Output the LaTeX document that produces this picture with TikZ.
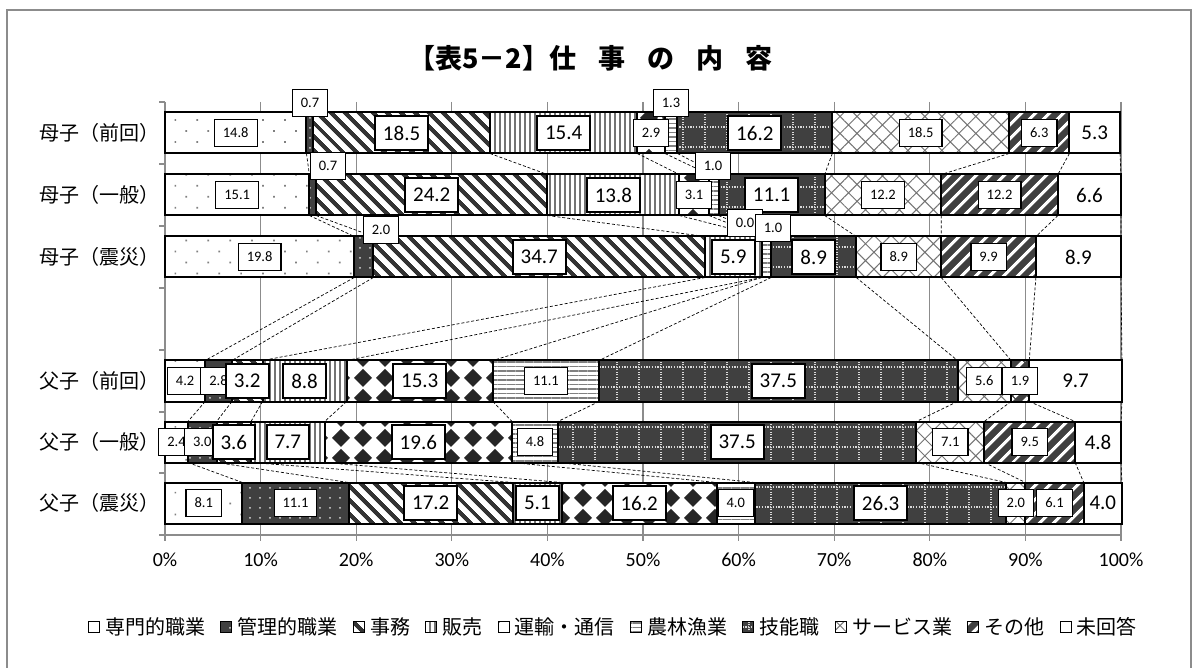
\documentclass[tikz,border=0pt]{standalone}
\usepackage{fontspec}
\setmainfont{Carlito}
\newfontfamily\jfont{Noto Sans CJK JP}
\usetikzlibrary{positioning,patterns,patterns.meta}

% diamond pattern (transport) and dotted grid (skilled work)
\pgfdeclarepatternformonly{diamonds}{\pgfpoint{-1pt}{-1pt}}{\pgfpoint{23pt}{21pt}}{\pgfpoint{22pt}{20pt}}{%
  \pgfpathmoveto{\pgfpoint{11pt}{1pt}}%
  \pgfpathlineto{\pgfpoint{20pt}{10pt}}%
  \pgfpathlineto{\pgfpoint{11pt}{19pt}}%
  \pgfpathlineto{\pgfpoint{2pt}{10pt}}%
  \pgfpathclose\pgfusepath{fill}}
\pgfdeclarepatternformonly{dotgrid}{\pgfpoint{-1pt}{-1pt}}{\pgfpoint{23pt}{21pt}}{\pgfpoint{22pt}{20pt}}{%
  \pgfsetlinewidth{1.4pt}%
  \pgfsetdash{{1.4pt}{1.35pt}}{0pt}%
  \pgfpathmoveto{\pgfpoint{0pt}{1pt}}\pgfpathlineto{\pgfpoint{22pt}{1pt}}\pgfusepath{stroke}%
  \pgfsetdash{{1.3pt}{1.2pt}}{0pt}%
  \pgfpathmoveto{\pgfpoint{1pt}{0pt}}\pgfpathlineto{\pgfpoint{1pt}{20pt}}\pgfusepath{stroke}}

\tikzset{
  seg/.style={draw=black, line width=2pt},
  seg1/.style={seg, preaction={fill=white}, pattern={Dots[angle=45, distance=15.5pt, radius=1.2pt]}, pattern color=black!50},
  seg2/.style={seg, preaction={fill=black!75}, pattern={Dots[distance=10pt, radius=1pt]}, pattern color=black!15},
  seg3/.style={seg, preaction={fill=white}, pattern={Lines[angle=-45, distance=10.5pt, line width=4.5pt]}, pattern color=black!80},
  seg4/.style={seg, preaction={fill=white}, pattern={Lines[angle=90, distance=5pt, line width=1.3pt]}, pattern color=black!55},
  seg5/.style={seg, preaction={fill=white}, pattern=diamonds, pattern color=black!85},
  seg6/.style={seg, preaction={fill=white}, pattern={Lines[angle=0, distance=4.5pt, line width=1.2pt]}, pattern color=black!50},
  seg7/.style={seg, preaction={fill=black!75}, pattern=dotgrid, pattern color=black!15},
  seg8/.style={seg, preaction={fill=white}, pattern={Hatch[angle=45, distance=12pt, line width=1pt]}, pattern color=black!55},
  seg9/.style={seg, preaction={fill=black!75}, pattern={Lines[angle=45, distance=10.5pt, line width=3.5pt]}, pattern color=white},
  seg10/.style={seg, fill=white},
  lbls/.style={draw=black, fill=white, line width=1.2pt, font=\fontsize{14.5}{15}\selectfont, inner xsep=8.5pt, inner ysep=0pt, minimum height=27pt},
  lblL/.style={draw=black, fill=white, line width=2pt, font=\fontsize{21}{22}\selectfont, inner xsep=8pt, inner ysep=0pt, minimum height=34pt},
  lbln/.style={font=\fontsize{21}{22}\selectfont},
  grid/.style={draw=black!45, line width=1.2pt},
  serline/.style={dashed, dash pattern=on 3pt off 2pt, line width=0.7pt},
  catlbl/.style={anchor=west, inner sep=0pt, font=\jfont\fontsize{20}{22}\selectfont},
  axlbl/.style={font=\fontsize{20}{22}\selectfont},
  legbox/.style={line width=1pt, minimum size=11pt, inner sep=0pt},
  legtext/.style={font=\jfont\fontsize{20}{22}\selectfont, inner sep=0pt},
}

% one bar: name, y centre, values
\newcommand{\barrow}[3]{%
  \gdef\segsta{0}%
  \foreach \v/\k [count=\i] in #3 {%
    \pgfmathsetmacro{\segend}{\segsta+\v}%
    \path[seg\i] (165+9.56*\segsta, #2-20.5) rectangle (165+9.56*\segend, #2+20.5);
    \coordinate (#1t\i) at (165+9.56*\segend, #2-20.5);
    \coordinate (#1b\i) at (165+9.56*\segend, #2+20.5);
    \coordinate (#1c\i) at (165+4.78*\segsta+4.78*\segend, #2);
    \xdef\segsta{\segend}%
  }}
\newcommand{\barlabels}[2]{%
  \foreach \v/\k [count=\i] in #2 {%
    \if\k x\else \node[lbl\k] (#1l\i) at (#1c\i) {\v};\fi
  }}

\begin{document}
\begin{tikzpicture}[x=1pt, y=-1pt]
\useasboundingbox (0,0) rectangle (1200,668);
\draw[black!45, line width=1.5pt] (7,10) rectangle (1191,700);

\node[anchor=west, inner sep=0pt, font=\jfont\bfseries\fontsize{27}{29}\selectfont] (title) at (408,58)
  {【表5－2】仕\hspace{22pt}事\hspace{22pt}の\hspace{22pt}内\hspace{22pt}容};

% grid and axes
\foreach \p in {1,...,10}
  \draw[grid] (165+95.6*\p, 102) -- (165+95.6*\p, 541);
\draw[grid] (165,102) -- (165,541);
\draw[grid] (165,535) -- (1121,535);
\foreach \yy in {102,164,226,288,350,412,473,535}
  \draw[grid] (159,\yy) -- (165,\yy);
\foreach \p in {0,...,10} {
  \pgfmathtruncatemacro{\q}{10*\p}
  \node[axlbl] (ax\p) at (165+95.6*\p, 560) {\q\%};
}

% bars
\def\mA{14.8/s, 0.7/x, 18.5/L, 15.4/L, 2.9/s, 1.3/x, 16.2/L, 18.5/s, 6.3/s, 5.3/n}
\def\mB{15.1/s, 0.7/x, 24.2/L, 13.8/L, 3.1/s, 1.0/x, 11.1/L, 12.2/s, 12.2/s, 6.6/n}
\def\mC{19.8/s, 2.0/x, 34.7/L, 5.9/L, 0.0/x, 1.0/x, 8.9/L, 8.9/s, 9.9/s, 8.9/n}
\def\fA{4.2/s, 2.8/s, 3.2/L, 8.8/L, 15.3/L, 11.1/s, 37.5/L, 5.6/s, 1.9/s, 9.7/n}
\def\fB{2.4/s, 3.0/s, 3.6/L, 7.7/L, 19.6/L, 4.8/s, 37.5/L, 7.1/s, 9.5/s, 4.8/n}
\def\fC{8.1/s, 11.1/s, 17.2/L, 5.1/L, 16.2/L, 4.0/s, 26.3/L, 2.0/s, 6.1/s, 4.0/n}

\barrow{ma}{133}{\mA}
\barrow{mb}{195}{\mB}
\barrow{mc}{257}{\mC}
\barrow{fa}{381}{\fA}
\barrow{fb}{442}{\fB}
\barrow{fc}{503}{\fC}

\foreach \a/\b in {ma/mb, mb/mc, mc/fa, fa/fb, fb/fc}
  \foreach \i in {1,...,10}
    \draw[serline] (\a b\i) -- (\b t\i);

\barlabels{ma}{\mA}
\barlabels{mb}{\mB}
\barlabels{mc}{\mC}
\barlabels{fa}{\fA}
\barlabels{fb}{\fB}
\barlabels{fc}{\fC}

% small values moved off the bars
\node[lbls] (mal2) at (310,103) {0.7};
\node[lbls] (mal6) at (671,103) {1.3};
\node[lbls] (mbl2) at (328,166) {0.7};
\node[lbls] (mbl6) at (713,166) {1.0};
\node[lbls] (mcl2) at (381,230) {2.0};
\node[lbls] (mcl5) at (745,223) {0.0};
\node[lbls] (mcl6) at (773,228) {1.0};

% category labels
\node[catlbl] (cma) at (39,133) {母子（前回）};
\node[catlbl] (cmb) at (39,195) {母子（一般）};
\node[catlbl] (cmc) at (39,257) {母子（震災）};
\node[catlbl] (cfa) at (39,381) {父子（前回）};
\node[catlbl] (cfb) at (39,442) {父子（一般）};
\node[catlbl] (cfc) at (39,503) {父子（震災）};

% legend
\node[seg1, legbox, anchor=west] (k1) at (88,627) {};
\node[legtext, right=5pt of k1] (t1) {専門的職業};
\node[seg2, legbox, right=15pt of t1] (k2) {};
\node[legtext, right=5pt of k2] (t2) {管理的職業};
\node[seg3, legbox, right=15pt of t2] (k3) {};
\node[legtext, right=5pt of k3] (t3) {事務};
\node[seg4, legbox, right=15pt of t3] (k4) {};
\node[legtext, right=5pt of k4] (t4) {販売};
\node[seg5, legbox, right=15pt of t4] (k5) {};
\node[legtext, right=5pt of k5] (t5) {運輸・通信};
\node[seg6, legbox, right=15pt of t5] (k6) {};
\node[legtext, right=5pt of k6] (t6) {農林漁業};
\node[seg7, legbox, right=15pt of t6] (k7) {};
\node[legtext, right=5pt of k7] (t7) {技能職};
\node[seg8, legbox, right=15pt of t7] (k8) {};
\node[legtext, right=5pt of k8] (t8) {サービス業};
\node[seg9, legbox, right=15pt of t8] (k9) {};
\node[legtext, right=5pt of k9] (t9) {その他};
\node[seg10, legbox, right=15pt of t9] (k10) {};
\node[legtext, right=5pt of k10] (t10) {未回答};
\end{tikzpicture}
\end{document}
